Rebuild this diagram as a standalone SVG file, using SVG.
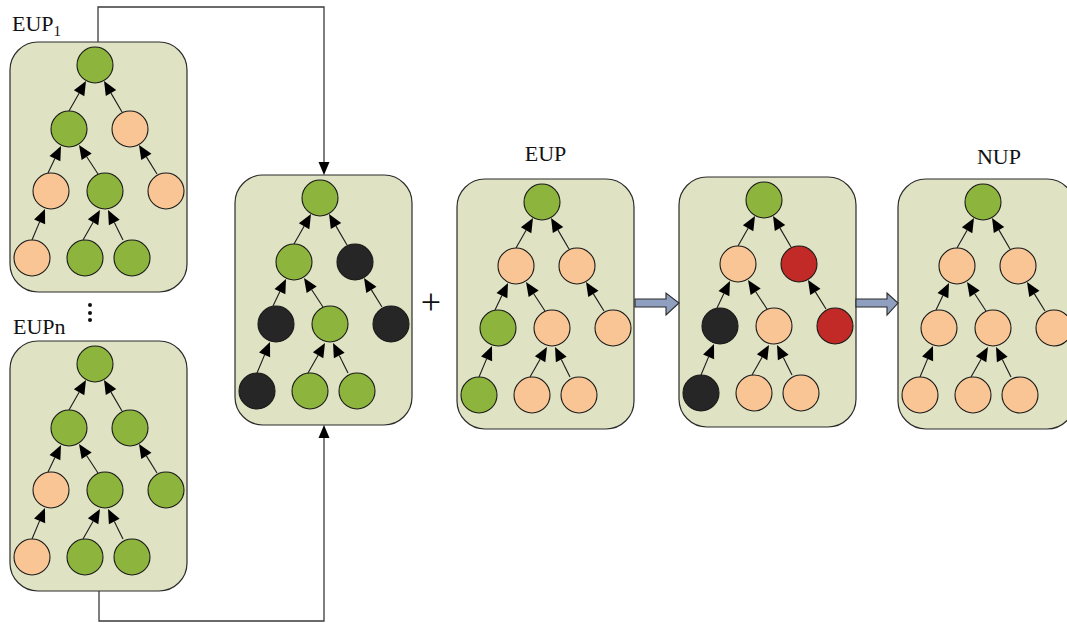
<svg xmlns="http://www.w3.org/2000/svg" xmlns:xlink="http://www.w3.org/1999/xlink" width="1067" height="623" viewBox="0 0 1067 623">
<style>
.box{fill:#dfe3c3;stroke:#2b2b2b;stroke-width:1.2}
.n{stroke:#1a1a1a;stroke-width:1.1}
.G{fill:#8db53d}.P{fill:#f9c595}.K{fill:#262626}.R{fill:#c12a26}
.e{stroke:#1a1a1a;stroke-width:1.1;fill:none}
.h{fill:#000;stroke:none}
.c{stroke:#3a3a3a;stroke-width:1.3;fill:none}
.blk{fill:#8e9fbf;stroke:#2b2b2b;stroke-width:1.1}
.t{font-family:"Liberation Serif","Times New Roman",serif;font-size:22px;fill:#111}
.plus{font-family:"Liberation Serif","Times New Roman",serif;font-size:36px;fill:#111}
</style>
<defs>
<g id="tree-edges">
<line class="e" x1="59" y1="69" x2="69.1" y2="51.2"/><polygon class="h" points="76,39 74.32,54.14 63.88,48.22"/>
<line class="e" x1="112" y1="70" x2="101" y2="51.1"/><polygon class="h" points="94,39 106.22,48.1 95.84,54.12"/>
<line class="e" x1="38" y1="131" x2="44.9" y2="116.6"/><polygon class="h" points="51,104 50.34,119.21 39.52,114.01"/>
<line class="e" x1="88" y1="132" x2="76.7" y2="114.7"/><polygon class="h" points="69,103 81.69,111.42 71.65,118"/>
<line class="e" x1="147" y1="132" x2="136.4" y2="114.9"/><polygon class="h" points="129,103 141.48,111.74 131.28,118.06"/>
<line class="e" x1="22" y1="198" x2="29.6" y2="179.9"/><polygon class="h" points="35,167 35.12,182.23 24.06,177.59"/>
<line class="e" x1="73" y1="198" x2="83.1" y2="180.2"/><polygon class="h" points="90,168 88.32,183.14 77.88,177.22"/>
<line class="e" x1="113" y1="198" x2="104.3" y2="180.5"/><polygon class="h" points="98,168 109.63,177.84 98.89,183.2"/>
</g>
</defs>

<!-- boxes -->
<g id="box-eup1" transform="translate(10,42)"><rect class="box" x="0" y="0" width="177" height="250" rx="28"/></g>
<g id="box-eupn" transform="translate(10,341)"><rect class="box" x="0" y="0" width="177" height="250" rx="28"/></g>
<g id="box-merge" transform="translate(235,175)"><rect class="box" x="0" y="0" width="177" height="250" rx="28"/></g>
<g id="box-eup" transform="translate(457,179)"><rect class="box" x="0" y="0" width="177" height="250" rx="28"/></g>
<g id="box-mid" transform="translate(679,177)"><rect class="box" x="0" y="0" width="177" height="250" rx="28"/></g>
<g id="box-nup" transform="translate(898,179)"><rect class="box" x="0" y="0" width="177" height="250" rx="28"/></g>

<!-- connectors -->
<g id="connectors">
<use xlink:href="#tree-edges" href="#tree-edges" transform="translate(10,42)"/>
<use xlink:href="#tree-edges" href="#tree-edges" transform="translate(10,341)"/>
<use xlink:href="#tree-edges" href="#tree-edges" transform="translate(235,175)"/>
<use xlink:href="#tree-edges" href="#tree-edges" transform="translate(457,179)"/>
<use xlink:href="#tree-edges" href="#tree-edges" transform="translate(679,177)"/>
<use xlink:href="#tree-edges" href="#tree-edges" transform="translate(898,179)"/>
<polyline class="c" points="98,42 98,7 324,7 324,163"/>
<polygon class="h" points="324,175 318.5,162 329.5,162"/>
<polyline class="c" points="99,591 99,621 324,621 324,437"/>
<polygon class="h" points="324,425 318.5,438 329.5,438"/>
<polygon class="blk" points="635,299 666,299 666,293 679,303 666,315 666,307 635,307"/>
<polygon class="blk" points="856,299 887,299 887,293 898,303 887,315 887,307 856,307"/>
</g>

<!-- tree nodes -->
<g id="tree-eup1" transform="translate(10,42)">
<g id="eup1-n1"><circle class="n G" cx="85" cy="23" r="18"/></g>
<g id="eup1-n2"><circle class="n G" cx="59" cy="87" r="18"/></g>
<g id="eup1-n3"><circle class="n P" cx="120" cy="87" r="18"/></g>
<g id="eup1-n4"><circle class="n P" cx="41" cy="149" r="18"/></g>
<g id="eup1-n5"><circle class="n G" cx="95" cy="149" r="18"/></g>
<g id="eup1-n6"><circle class="n P" cx="156" cy="149" r="18"/></g>
<g id="eup1-n7"><circle class="n P" cx="22" cy="216" r="18"/></g>
<g id="eup1-n8"><circle class="n G" cx="75" cy="216" r="18"/></g>
<g id="eup1-n9"><circle class="n G" cx="122" cy="216" r="18"/></g>
</g>
<g id="tree-eupn" transform="translate(10,341)">
<g id="eupn-n1"><circle class="n G" cx="85" cy="23" r="18"/></g>
<g id="eupn-n2"><circle class="n G" cx="59" cy="87" r="18"/></g>
<g id="eupn-n3"><circle class="n G" cx="120" cy="87" r="18"/></g>
<g id="eupn-n4"><circle class="n P" cx="41" cy="149" r="18"/></g>
<g id="eupn-n5"><circle class="n G" cx="95" cy="149" r="18"/></g>
<g id="eupn-n6"><circle class="n G" cx="156" cy="149" r="18"/></g>
<g id="eupn-n7"><circle class="n P" cx="22" cy="216" r="18"/></g>
<g id="eupn-n8"><circle class="n G" cx="75" cy="216" r="18"/></g>
<g id="eupn-n9"><circle class="n G" cx="122" cy="216" r="18"/></g>
</g>
<g id="tree-merge" transform="translate(235,175)">
<g id="merge-n1"><circle class="n G" cx="85" cy="23" r="18"/></g>
<g id="merge-n2"><circle class="n G" cx="59" cy="87" r="18"/></g>
<g id="merge-n3"><circle class="n K" cx="120" cy="87" r="18"/></g>
<g id="merge-n4"><circle class="n K" cx="41" cy="149" r="18"/></g>
<g id="merge-n5"><circle class="n G" cx="95" cy="149" r="18"/></g>
<g id="merge-n6"><circle class="n K" cx="156" cy="149" r="18"/></g>
<g id="merge-n7"><circle class="n K" cx="22" cy="216" r="18"/></g>
<g id="merge-n8"><circle class="n G" cx="75" cy="216" r="18"/></g>
<g id="merge-n9"><circle class="n G" cx="122" cy="216" r="18"/></g>
</g>
<g id="tree-eup" transform="translate(457,179)">
<g id="eup-n1"><circle class="n G" cx="85" cy="23" r="18"/></g>
<g id="eup-n2"><circle class="n P" cx="59" cy="87" r="18"/></g>
<g id="eup-n3"><circle class="n P" cx="120" cy="87" r="18"/></g>
<g id="eup-n4"><circle class="n G" cx="41" cy="149" r="18"/></g>
<g id="eup-n5"><circle class="n P" cx="95" cy="149" r="18"/></g>
<g id="eup-n6"><circle class="n P" cx="156" cy="149" r="18"/></g>
<g id="eup-n7"><circle class="n G" cx="22" cy="216" r="18"/></g>
<g id="eup-n8"><circle class="n P" cx="75" cy="216" r="18"/></g>
<g id="eup-n9"><circle class="n P" cx="122" cy="216" r="18"/></g>
</g>
<g id="tree-mid" transform="translate(679,177)">
<g id="mid-n1"><circle class="n G" cx="85" cy="23" r="18"/></g>
<g id="mid-n2"><circle class="n P" cx="59" cy="87" r="18"/></g>
<g id="mid-n3"><circle class="n R" cx="120" cy="87" r="18"/></g>
<g id="mid-n4"><circle class="n K" cx="41" cy="149" r="18"/></g>
<g id="mid-n5"><circle class="n P" cx="95" cy="149" r="18"/></g>
<g id="mid-n6"><circle class="n R" cx="156" cy="149" r="18"/></g>
<g id="mid-n7"><circle class="n K" cx="22" cy="216" r="18"/></g>
<g id="mid-n8"><circle class="n P" cx="75" cy="216" r="18"/></g>
<g id="mid-n9"><circle class="n P" cx="122" cy="216" r="18"/></g>
</g>
<g id="tree-nup" transform="translate(898,179)">
<g id="nup-n1"><circle class="n G" cx="85" cy="23" r="18"/></g>
<g id="nup-n2"><circle class="n P" cx="59" cy="87" r="18"/></g>
<g id="nup-n3"><circle class="n P" cx="120" cy="87" r="18"/></g>
<g id="nup-n4"><circle class="n P" cx="41" cy="149" r="18"/></g>
<g id="nup-n5"><circle class="n P" cx="95" cy="149" r="18"/></g>
<g id="nup-n6"><circle class="n P" cx="156" cy="149" r="18"/></g>
<g id="nup-n7"><circle class="n P" cx="22" cy="216" r="18"/></g>
<g id="nup-n8"><circle class="n P" cx="75" cy="216" r="18"/></g>
<g id="nup-n9"><circle class="n P" cx="122" cy="216" r="18"/></g>
</g>

<!-- labels -->
<g id="labels">
<text class="t" x="12" y="31">EUP<tspan style="font-size:15px" dy="5">1</tspan></text>
<text class="t" x="13" y="334">EUPn</text>
<text class="t" x="545.5" y="161" text-anchor="middle">EUP</text>
<text class="t" x="999" y="164" text-anchor="middle">NUP</text>
<text class="plus" x="431" y="314" text-anchor="middle">+</text>
</g>
<g id="vdots" fill="#111">
<circle cx="90" cy="305" r="2"/>
<circle cx="90" cy="313" r="2"/>
<circle cx="90" cy="320" r="2"/>
</g>
</svg>
